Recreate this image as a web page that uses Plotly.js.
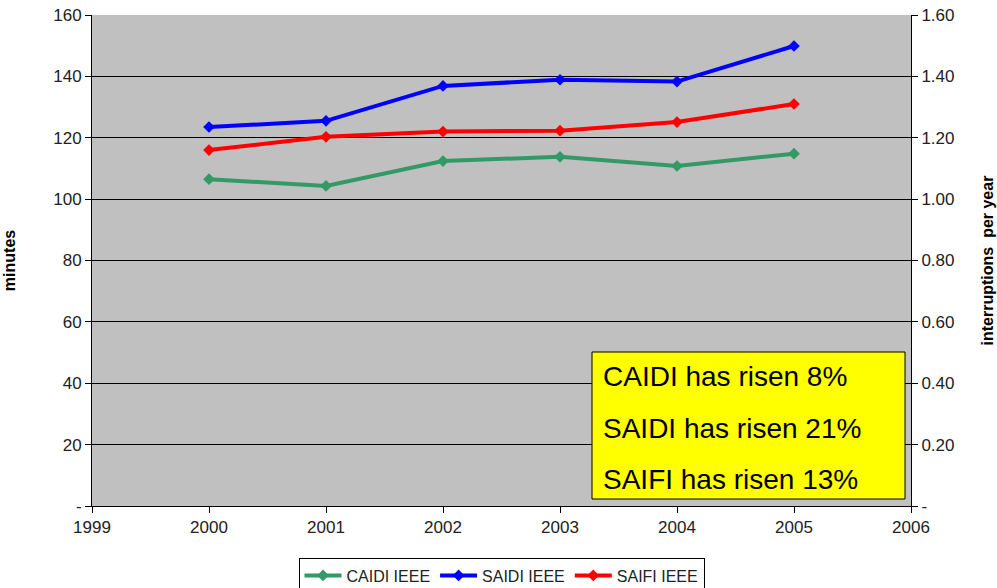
<!DOCTYPE html>
<html>
<head>
<meta charset="utf-8">
<script src="https://cdn.plot.ly/plotly-3.0.1.min.js"></script>
<style>html,body{margin:0;padding:0;background:#fff;}#chart{width:997px;height:588px;}</style>
</head>
<body>
<div id="chart"></div>
<script>
const years = [2000, 2001, 2002, 2003, 2004, 2005];
const caidi = [106.5, 104.3, 112.4, 113.8, 110.8, 114.8];
const saidi = [123.5, 125.5, 136.9, 138.9, 138.3, 149.9];
const saifi = [1.16, 1.203, 1.22, 1.223, 1.251, 1.31];
const leftTickVals = [0, 20, 40, 60, 80, 100, 120, 140, 160];
const leftTickText = ['-', '20', '40', '60', '80', '100', '120', '140', '160'];
const rightTickVals = [0, 0.2, 0.4, 0.6, 0.8, 1.0, 1.2, 1.4, 1.6];
const rightTickText = ['-', '0.20', '0.40', '0.60', '0.80', '1.00', '1.20', '1.40', '1.60'];
const xTickVals = [1999, 2000, 2001, 2002, 2003, 2004, 2005, 2006];
const noteLines = ['CAIDI has risen 8%', 'SAIDI has risen 21%', 'SAIFI has risen 13%'];

const font = 'Arial, "Liberation Sans", sans-serif';
const traces = [
  {x: years, y: caidi, name: 'CAIDI IEEE', type: 'scatter', mode: 'lines+markers',
   line: {color: '#339966', width: 4}, marker: {symbol: 'diamond', size: 9, color: '#339966'}},
  {x: years, y: saidi, name: 'SAIDI IEEE', type: 'scatter', mode: 'lines+markers',
   line: {color: '#0000ff', width: 4}, marker: {symbol: 'diamond', size: 9, color: '#0000ff'}},
  {x: years, y: saifi, name: 'SAIFI IEEE', type: 'scatter', mode: 'lines+markers', yaxis: 'y2',
   line: {color: '#ff0000', width: 4}, marker: {symbol: 'diamond', size: 9, color: '#ff0000'}}
];

const tickFont = {family: font, size: 17, color: '#222'};
const layout = {
  width: 997, height: 588,
  margin: {l: 92, r: 86, t: 15, b: 82, autoexpand: false},
  paper_bgcolor: '#ffffff',
  plot_bgcolor: '#c0c0c0',
  font: {family: font, size: 17, color: '#222'},
  showlegend: true,
  legend: {orientation: 'h', x: 0.5, xanchor: 'center', y: -0.105, yanchor: 'top',
    bordercolor: '#000', borderwidth: 1, font: {family: font, size: 16, color: '#222'},
    itemwidth: 37, tracegroupgap: 0, bgcolor: '#fff'},
  xaxis: {range: [1999, 2006], tickvals: xTickVals, ticks: 'outside', ticklen: 6,
    tickcolor: '#000', showline: true, linecolor: '#000', linewidth: 1, showgrid: false,
    zeroline: false, tickfont: tickFont},
  yaxis: {range: [0, 160], tickvals: leftTickVals, ticktext: leftTickText, ticks: 'outside',
    ticklen: 6, tickcolor: '#000', showline: true, linecolor: '#000', linewidth: 1,
    showgrid: true, gridcolor: '#000', gridwidth: 1, zeroline: false, tickfont: tickFont,
    title: {text: '<b>minutes</b>', font: {family: font, size: 16, color: '#000'}, standoff: 33}},
  yaxis2: {range: [0, 1.6], overlaying: 'y', side: 'right', tickvals: rightTickVals,
    ticktext: rightTickText, ticks: 'outside', ticklen: 6, tickcolor: '#000', showline: true,
    linecolor: '#000', linewidth: 1, showgrid: false, zeroline: false, tickfont: tickFont,
    title: {text: '<b>interruptions  per year</b>', font: {family: font, size: 16, color: '#000'}, standoff: 28}},
  shapes: [
    {type: 'rect', xref: 'paper', yref: 'paper', x0: (592 - 92) / 819, x1: (905 - 92) / 819,
     y0: (506 - 499) / 491, y1: (506 - 352) / 491, fillcolor: '#ffff00',
     line: {color: '#000', width: 1}}
  ],
  annotations: noteLines.map((t, i) => ({
    text: t, xref: 'paper', yref: 'paper', x: (601 - 92) / 819, xanchor: 'left',
    y: (506 - (377 + i * 51)) / 491, yanchor: 'middle', showarrow: false,
    font: {family: font, size: 28, color: '#000'}
  }))
};

Plotly.newPlot('chart', traces, layout, {displayModeBar: false, staticPlot: true});
</script>
</body>
</html>
